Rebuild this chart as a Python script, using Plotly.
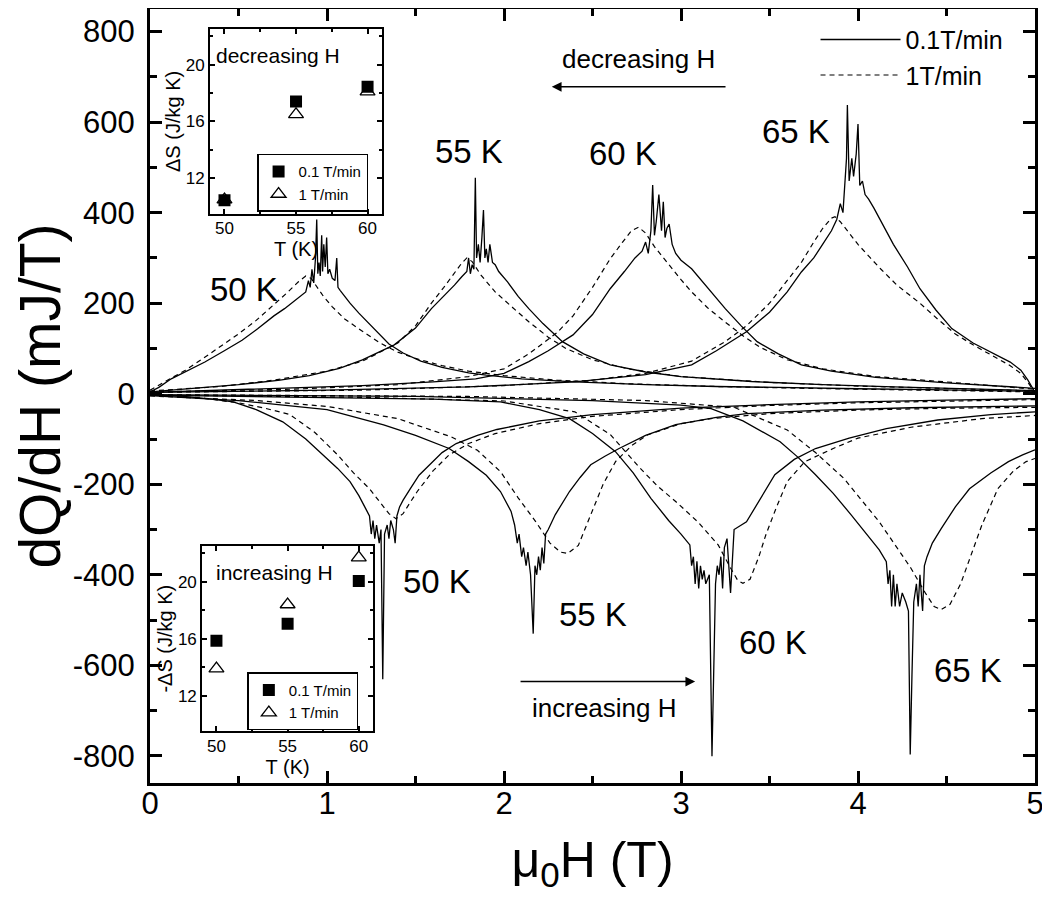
import plotly.graph_objects as go

# ---------------- main panel: dQ/dH (mJ/T) versus mu0H (T) ----------------
# decreasing field (positive peaks), 0.1 T/min
dec50_slow_H = [0.00, 0.05, 0.12, 0.20, 0.31, 0.42, 0.52, 0.61, 0.70, 0.76, 0.80, 0.84, 0.87, 0.88, 0.895,
                0.905, 0.915, 0.925, 0.935, 0.942, 0.948, 0.955, 0.962, 0.970, 0.975, 0.982, 0.990, 0.998,
                1.005, 1.015, 1.030, 1.045, 1.055, 1.062, 1.075, 1.09, 1.13, 1.18, 1.225, 1.29, 1.35, 1.43,
                1.53, 1.65, 1.80, 1.90, 2.10, 2.40, 2.80, 3.20, 3.60, 4.00, 4.40, 4.80, 5.00]
dec50_slow_Q = [4, 14, 33, 48, 70, 95, 118, 144, 172, 188, 200, 212, 222, 225, 250,
                235, 275, 245, 300, 385, 265, 290, 260, 350, 270, 330, 280, 345,
                265, 275, 255, 250, 300, 235, 228, 220, 200, 178, 160, 132, 110, 90,
                72, 58, 46, 41, 33, 26, 20, 16, 13, 11, 9, 7, 5]

dec55_slow_H = [0.00, 0.30, 0.50, 0.735, 0.90, 1.07, 1.20, 1.38, 1.50, 1.59, 1.66, 1.72, 1.76, 1.79, 1.80,
                1.81, 1.82, 1.83, 1.838, 1.845, 1.855, 1.865, 1.875, 1.884, 1.892, 1.90, 1.91, 1.92, 1.935,
                1.95, 1.97, 2.02, 2.08, 2.14, 2.22, 2.33, 2.45, 2.60, 2.80, 3.00, 3.40, 3.80, 4.20, 4.60, 5.00]
dec55_slow_Q = [4, 14, 20, 30, 40, 56, 75, 108, 145, 188, 215, 240, 258, 270, 300,
                265, 285, 275, 477, 300, 330, 290, 345, 406, 300, 320, 290, 330, 290,
                285, 270, 247, 215, 188, 155, 115, 88, 64, 48, 38, 27, 20, 15, 11, 7]

dec60_slow_H = [0.00, 0.60, 1.20, 1.60, 1.84, 2.00, 2.14, 2.25, 2.39, 2.50, 2.60, 2.68, 2.74, 2.78, 2.80,
                2.815, 2.83, 2.84, 2.85, 2.86, 2.875, 2.89, 2.90, 2.91, 2.92, 2.933, 2.95, 2.97, 3.00,
                3.06, 3.15, 3.25, 3.34, 3.43, 3.55, 3.68, 3.85, 4.10, 4.50, 5.00]
dec60_slow_Q = [3, 10, 18, 26, 33, 45, 71, 95, 130, 175, 232, 270, 300, 315, 335,
                310, 360, 461, 350, 380, 440, 360, 424, 345, 365, 375, 330, 310, 295,
                276, 235, 188, 150, 115, 88, 64, 50, 36, 24, 12]

dec65_slow_H = [0.00, 1.00, 1.80, 2.40, 2.80, 3.06, 3.20, 3.37, 3.50, 3.60, 3.68, 3.75, 3.80, 3.85, 3.88,
                3.90, 3.915, 3.925, 3.935, 3.94, 3.95, 3.965, 3.975, 3.99, 4.00, 4.01, 4.025, 4.04, 4.06,
                4.09, 4.13, 4.20, 4.28, 4.35, 4.44, 4.53, 4.65, 4.78, 4.86, 4.92, 4.96, 4.99, 5.00]
dec65_slow_Q = [3, 8, 15, 26, 42, 64, 95, 137, 180, 225, 269, 300, 330, 360, 385,
                420, 400, 450, 520, 638, 470, 520, 480, 530, 596, 460, 470, 440, 430,
                410, 380, 330, 280, 232, 185, 144, 112, 86, 70, 52, 30, 10, 2]

# decreasing field, 1 T/min
dec50_fast_H = [0.00, 0.10, 0.20, 0.30, 0.40, 0.50, 0.60, 0.70, 0.78, 0.84, 0.88, 0.91, 0.94, 0.98, 1.03,
                1.10, 1.20, 1.30, 1.40, 1.50, 1.65, 1.80, 2.00, 2.30, 2.70, 3.20, 3.70, 4.20, 4.60, 5.00]
dec50_fast_Q = [8, 30, 52, 78, 105, 132, 162, 196, 225, 248, 260, 255, 238, 215, 192,
                165, 138, 112, 92, 78, 62, 50, 40, 30, 22, 16, 12, 9, 7, 4]

dec55_fast_H = [0.00, 0.40, 0.70, 1.00, 1.20, 1.40, 1.50, 1.59, 1.66, 1.72, 1.76, 1.79, 1.82, 1.87, 1.95,
                2.05, 2.14, 2.25, 2.35, 2.50, 2.70, 3.00, 3.50, 4.00, 4.50, 5.00]
dec55_fast_Q = [6, 16, 30, 50, 72, 112, 150, 200, 235, 268, 288, 300, 292, 262, 225,
                190, 159, 125, 100, 75, 55, 38, 25, 17, 12, 6]

dec60_fast_H = [0.00, 0.80, 1.40, 1.80, 2.00, 2.14, 2.30, 2.39, 2.50, 2.60, 2.67, 2.72, 2.76, 2.80, 2.85,
                2.92, 3.00, 3.06, 3.15, 3.25, 3.35, 3.45, 3.60, 3.80, 4.10, 4.50, 5.00]
dec60_fast_Q = [4, 10, 20, 38, 55, 88, 135, 172, 235, 298, 335, 360, 368, 355, 325,
                290, 252, 225, 190, 158, 128, 102, 75, 55, 38, 26, 10]

dec65_fast_H = [0.00, 1.20, 2.00, 2.50, 2.80, 3.06, 3.25, 3.37, 3.50, 3.60, 3.68, 3.75, 3.80, 3.85, 3.87,
                3.90, 3.95, 4.00, 4.07, 4.13, 4.22, 4.35, 4.45, 4.55, 4.65, 4.78, 4.86, 4.92, 4.96, 5.00]
dec65_fast_Q = [3, 8, 18, 30, 45, 72, 115, 150, 200, 250, 290, 335, 365, 388, 391,
                380, 355, 330, 300, 275, 240, 200, 165, 132, 108, 80, 62, 45, 25, 2]

# increasing field (negative peaks), 0.1 T/min
inc50_slow_H = [0.00, 0.19, 0.35, 0.47, 0.60, 0.75, 0.88, 0.98, 1.06, 1.13, 1.18, 1.22, 1.24, 1.25, 1.26,
                1.27, 1.28, 1.295, 1.305, 1.315, 1.325, 1.34, 1.35, 1.36, 1.375, 1.385, 1.395, 1.41, 1.43,
                1.47, 1.52, 1.58, 1.65, 1.73, 1.85, 1.96, 2.20, 2.50, 3.00, 3.50, 4.00, 4.50, 5.00]
inc50_slow_Q = [-3, -6, -12, -18, -35, -62, -100, -135, -165, -194, -225, -255, -270, -310, -280,
                -320, -290, -330, -300, -631, -310, -290, -320, -280, -300, -330, -270, -250, -235,
                -210, -180, -157, -130, -110, -92, -79, -60, -46, -32, -24, -18, -14, -11]

inc55_slow_H = [0.00, 0.50, 1.00, 1.32, 1.50, 1.69, 1.80, 1.90, 1.98, 2.04, 2.06, 2.075, 2.085, 2.10, 2.11,
                2.125, 2.135, 2.15, 2.165, 2.175, 2.185, 2.195, 2.205, 2.215, 2.225, 2.235, 2.25, 2.29, 2.37,
                2.43, 2.49, 2.57, 2.65, 2.80, 2.97, 3.20, 3.37, 3.80, 4.30, 5.00]
inc55_slow_Q = [-4, -15, -35, -69, -92, -121, -150, -180, -216, -260, -290, -330, -310, -360, -340,
                -380, -350, -400, -530, -380, -400, -360, -390, -340, -375, -310, -300, -267, -216,
                -185, -157, -138, -121, -92, -68, -52, -44, -36, -31, -27]

inc60_slow_H = [0.00, 1.00, 1.60, 1.98, 2.20, 2.37, 2.50, 2.63, 2.73, 2.83, 2.93, 3.00, 3.05, 3.06, 3.07,
                3.08, 3.09, 3.10, 3.11, 3.12, 3.13, 3.14, 3.16, 3.175, 3.185, 3.195, 3.205, 3.215, 3.225,
                3.235, 3.245, 3.26, 3.28, 3.30, 3.37, 3.45, 3.53, 3.64, 3.76, 3.95, 4.16, 4.45, 4.75, 5.00]
inc60_slow_Q = [-3, -8, -12, -18, -35, -55, -88, -128, -175, -231, -280, -310, -334, -380, -360,
                -420, -370, -430, -380, -410, -390, -420, -400, -801, -560, -420, -380, -400, -360,
                -430, -340, -320, -440, -300, -283, -230, -179, -145, -121, -98, -77, -58, -46, -40]

inc65_slow_H = [0.00, 1.50, 2.50, 3.00, 3.17, 3.35, 3.56, 3.66, 3.76, 3.86, 3.96, 4.05, 4.12, 4.16, 4.17,
                4.18, 4.19, 4.20, 4.21, 4.22, 4.235, 4.25, 4.27, 4.285, 4.295, 4.305, 4.315, 4.33, 4.34,
                4.35, 4.365, 4.375, 4.39, 4.42, 4.47, 4.55, 4.63, 4.75, 4.85, 4.93, 5.00]
inc65_slow_Q = [-2, -6, -15, -25, -33, -60, -106, -140, -179, -220, -267, -310, -345, -371, -420,
                -390, -470, -400, -470, -420, -470, -440, -460, -480, -797, -620, -460, -420, -470,
                -400, -480, -380, -360, -330, -298, -250, -210, -175, -150, -135, -124]

# increasing field, 1 T/min
inc50_fast_H = [0.00, 0.30, 0.50, 0.65, 0.79, 0.93, 1.06, 1.15, 1.24, 1.30, 1.35, 1.39, 1.43, 1.47, 1.51,
                1.60, 1.69, 1.80, 1.95, 2.20, 2.50, 3.00, 3.50, 4.00, 4.50, 5.00]
inc50_fast_Q = [-3, -10, -20, -32, -46, -85, -135, -175, -210, -240, -265, -276, -265, -240, -216,
                -170, -135, -110, -88, -66, -50, -35, -26, -20, -16, -13]

inc55_fast_H = [0.00, 0.60, 1.00, 1.40, 1.70, 1.85, 1.98, 2.08, 2.18, 2.26, 2.32, 2.36, 2.42, 2.49, 2.56,
                2.63, 2.72, 2.81, 3.00, 3.17, 3.50, 4.00, 4.50, 5.00]
inc55_fast_Q = [-5, -15, -28, -55, -95, -125, -172, -230, -283, -330, -350, -353, -335, -267, -200,
                -150, -115, -91, -66, -55, -44, -36, -32, -30]

inc60_fast_H = [0.00, 1.20, 2.00, 2.40, 2.60, 2.77, 2.87, 2.97, 3.10, 3.21, 3.28, 3.32, 3.35, 3.39, 3.44,
                3.48, 3.54, 3.60, 3.70, 3.86, 4.00, 4.30, 4.70, 5.00]
inc60_fast_Q = [-3, -8, -16, -40, -90, -165, -205, -238, -285, -334, -385, -412, -419, -410, -360,
                -311, -250, -194, -150, -121, -98, -74, -55, -48]

inc65_fast_H = [0.00, 1.80, 2.80, 3.30, 3.60, 3.76, 3.92, 4.02, 4.12, 4.22, 4.30, 4.38, 4.43, 4.47, 4.52,
                4.58, 4.63, 4.70, 4.79, 4.88, 4.95, 5.00]
inc65_fast_Q = [-2, -6, -15, -30, -80, -130, -187, -235, -283, -340, -386, -440, -470, -477, -465,
                -420, -364, -290, -210, -170, -150, -143]

# ---------------- insets: entropy change versus temperature ----------------
inset_T = [50, 55, 60]
dec_dS_slow = [10.45, 17.4, 18.45]
dec_dS_fast = [10.5, 16.5, 18.1]
inc_dS_slow = [15.85, 17.05, 20.05]
inc_dS_fast = [13.9, 18.4, 21.7]

# tick labels (hyphen minus as in the original)
y_tick_vals = [-800, -600, -400, -200, 0, 200, 400, 600, 800]
y_tick_text = ["-800", "-600", "-400", "-200", "0", "200", "400", "600", "800"]
x_tick_vals = [0, 1, 2, 3, 4, 5]
x_tick_text = ["0", "1", "2", "3", "4", "5"]

# labels
temp_labels = ["50 K", "55 K", "60 K", "65 K"]
dec_label_H = [0.53, 1.80, 2.67, 3.65]
dec_label_Q = [230, 535, 530, 580]
inc_label_H = [1.62, 2.50, 3.52, 4.62]
inc_label_Q = [-415, -487, -550, -612]

FONT = "Liberation Sans, Arial, Helvetica, sans-serif"

slow_curves = [(dec50_slow_H, dec50_slow_Q), (dec55_slow_H, dec55_slow_Q), (dec60_slow_H, dec60_slow_Q),
               (dec65_slow_H, dec65_slow_Q), (inc50_slow_H, inc50_slow_Q), (inc55_slow_H, inc55_slow_Q),
               (inc60_slow_H, inc60_slow_Q), (inc65_slow_H, inc65_slow_Q)]
fast_curves = [(dec50_fast_H, dec50_fast_Q), (dec55_fast_H, dec55_fast_Q), (dec60_fast_H, dec60_fast_Q),
               (dec65_fast_H, dec65_fast_Q), (inc50_fast_H, inc50_fast_Q), (inc55_fast_H, inc55_fast_Q),
               (inc60_fast_H, inc60_fast_Q), (inc65_fast_H, inc65_fast_Q)]

fig = go.Figure()

fig.add_trace(go.Scatter(x=slow_curves[0][0], y=slow_curves[0][1], mode="lines", name="0.1T/min",
                         legendgroup="slow", showlegend=True,
                         line=dict(color="black", width=1.3)))
fig.add_trace(go.Scatter(x=fast_curves[0][0], y=fast_curves[0][1], mode="lines", name="1T/min",
                         legendgroup="fast", showlegend=True,
                         line=dict(color="black", width=1.2, dash="5px,4px")))
for hx, qy in slow_curves[1:]:
    fig.add_trace(go.Scatter(x=hx, y=qy, mode="lines", name="0.1T/min", legendgroup="slow",
                             showlegend=False, line=dict(color="black", width=1.3)))
for hx, qy in fast_curves[1:]:
    fig.add_trace(go.Scatter(x=hx, y=qy, mode="lines", name="1T/min", legendgroup="fast",
                             showlegend=False, line=dict(color="black", width=1.2, dash="5px,4px")))

# insets
sq = dict(symbol="square", size=12, color="black")
tri = dict(symbol="triangle-up-open", size=13, color="black", line=dict(width=1.3, color="black"))
fig.add_trace(go.Scatter(x=inset_T, y=dec_dS_slow, mode="markers", marker=sq, name="0.1 T/min",
                         xaxis="x2", yaxis="y2", legend="legend2"))
fig.add_trace(go.Scatter(x=inset_T, y=dec_dS_fast, mode="markers", marker=tri, name="1 T/min",
                         xaxis="x2", yaxis="y2", legend="legend2"))
fig.add_trace(go.Scatter(x=inset_T, y=inc_dS_slow, mode="markers", marker=sq, name="0.1 T/min",
                         xaxis="x3", yaxis="y3", legend="legend3"))
fig.add_trace(go.Scatter(x=inset_T, y=inc_dS_fast, mode="markers", marker=tri, name="1 T/min",
                         xaxis="x3", yaxis="y3", legend="legend3"))

main_axis = dict(showline=True, linewidth=3, linecolor="black", mirror="allticks", ticks="inside",
                 ticklen=12, tickwidth=3, tickcolor="black", showgrid=False, zeroline=False,
                 automargin=False, tickfont=dict(size=31, color="black", family=FONT))
inset_axis = dict(showline=True, linewidth=2, linecolor="black", mirror="allticks", ticks="inside",
                  ticklen=5, tickwidth=1.5, tickcolor="black", showgrid=False, zeroline=False,
                  automargin=False, tickfont=dict(size=17, color="black", family=FONT))

fig.update_layout(
    width=1050, height=900,
    margin=dict(l=142, r=23, t=1, b=125, autoexpand=False),
    paper_bgcolor="white", plot_bgcolor="white",
    font=dict(family=FONT, color="black"),
    xaxis=dict(range=[0, 5], tickvals=x_tick_vals, ticktext=x_tick_text,
               minor=dict(dtick=0.5, tick0=0, ticks="inside", ticklen=7, tickwidth=3, tickcolor="black"),
               title=dict(text="μ<sub>0</sub>H (T)", font=dict(size=50, family=FONT), standoff=22),
               ticklabelstandoff=-9,
               **main_axis),
    yaxis=dict(range=[-860, 850], tickvals=y_tick_vals, ticktext=y_tick_text,
               minor=dict(dtick=100, tick0=0, ticks="inside", ticklen=7, tickwidth=3, tickcolor="black"),
               title=dict(text="dQ/dH (mJ/T)", font=dict(size=57, family=FONT), standoff=6),
               ticklabelstandoff=6,
               **main_axis),
    xaxis2=dict(domain=[0.068, 0.262], anchor="y2", range=[49, 61], tickvals=[50, 55, 60],
                minor=dict(tickvals=[52.5, 57.5], ticks="inside", ticklen=3, tickwidth=1.5, tickcolor="black"),
                title=dict(text="T (K)", font=dict(size=20, family=FONT), standoff=0),
                ticklabelstandoff=-2,
                **inset_axis),
    yaxis2=dict(domain=[0.7355, 0.974], anchor="x2", range=[9.5, 22.5], tickvals=[12, 16, 20],
                minor=dict(tickvals=[14, 18, 22], ticks="inside", ticklen=3, tickwidth=1.5, tickcolor="black"),
                title=dict(text="ΔS (J/kg K)", font=dict(size=20, family=FONT), standoff=0),
                **inset_axis),
    xaxis3=dict(domain=[0.059, 0.252], anchor="y3", range=[49, 61], tickvals=[50, 55, 60],
                minor=dict(tickvals=[52.5, 57.5], ticks="inside", ticklen=3, tickwidth=1.5, tickcolor="black"),
                title=dict(text="T (K)", font=dict(size=20, family=FONT), standoff=0),
                ticklabelstandoff=-2,
                **inset_axis),
    yaxis3=dict(domain=[0.067, 0.306], anchor="x3", range=[9.5, 22.5], tickvals=[12, 16, 20],
                minor=dict(tickvals=[14, 18, 22], ticks="inside", ticklen=3, tickwidth=1.5, tickcolor="black"),
                title=dict(text="-ΔS (J/kg K)", font=dict(size=20, family=FONT), standoff=0),
                **inset_axis),
    legend=dict(x=0.752, y=0.99, xanchor="left", yanchor="top", bgcolor="rgba(0,0,0,0)",
                font=dict(size=25, family=FONT), itemwidth=80, tracegroupgap=0),
    legend2=dict(x=0.121, y=0.813, xanchor="left", yanchor="top", bgcolor="white",
                 bordercolor="black", borderwidth=1.5, font=dict(size=15, family=FONT)),
    legend3=dict(x=0.110, y=0.143, xanchor="left", yanchor="top", bgcolor="white",
                 bordercolor="black", borderwidth=1.5, font=dict(size=15, family=FONT)),
)

annotations = []
for txt, hx, qy in zip(temp_labels, dec_label_H, dec_label_Q):
    annotations.append(dict(x=hx, y=qy, xref="x", yref="y", text=txt, showarrow=False,
                            font=dict(size=33, family=FONT, color="black")))
for txt, hx, qy in zip(temp_labels, inc_label_H, inc_label_Q):
    annotations.append(dict(x=hx, y=qy, xref="x", yref="y", text=txt, showarrow=False,
                            font=dict(size=33, family=FONT, color="black")))
annotations += [
    dict(x=2.76, y=739, xref="x", yref="y", text="decreasing H", showarrow=False,
         font=dict(size=26, family=FONT, color="black")),
    dict(x=2.27, y=678, ax=3.26, ay=678, xref="x", yref="y", axref="x", ayref="y", text="",
         showarrow=True, arrowhead=2, arrowsize=1.3, arrowwidth=1.5, arrowcolor="black"),
    dict(x=2.57, y=-695, xref="x", yref="y", text="increasing H", showarrow=False,
         font=dict(size=26, family=FONT, color="black")),
    dict(x=3.08, y=-636, ax=2.085, ay=-636, xref="x", yref="y", axref="x", ayref="y", text="",
         showarrow=True, arrowhead=2, arrowsize=1.3, arrowwidth=1.5, arrowcolor="black"),
    dict(x=0.072, y=0.958, xref="paper", yref="paper", text="decreasing H", showarrow=False,
         xanchor="left", yanchor="top", font=dict(size=21, family=FONT, color="black")),
    dict(x=0.072, y=0.289, xref="paper", yref="paper", text="increasing H", showarrow=False,
         xanchor="left", yanchor="top", font=dict(size=21, family=FONT, color="black")),
]
fig.update_layout(annotations=annotations)

fig.write_html("out.html")
